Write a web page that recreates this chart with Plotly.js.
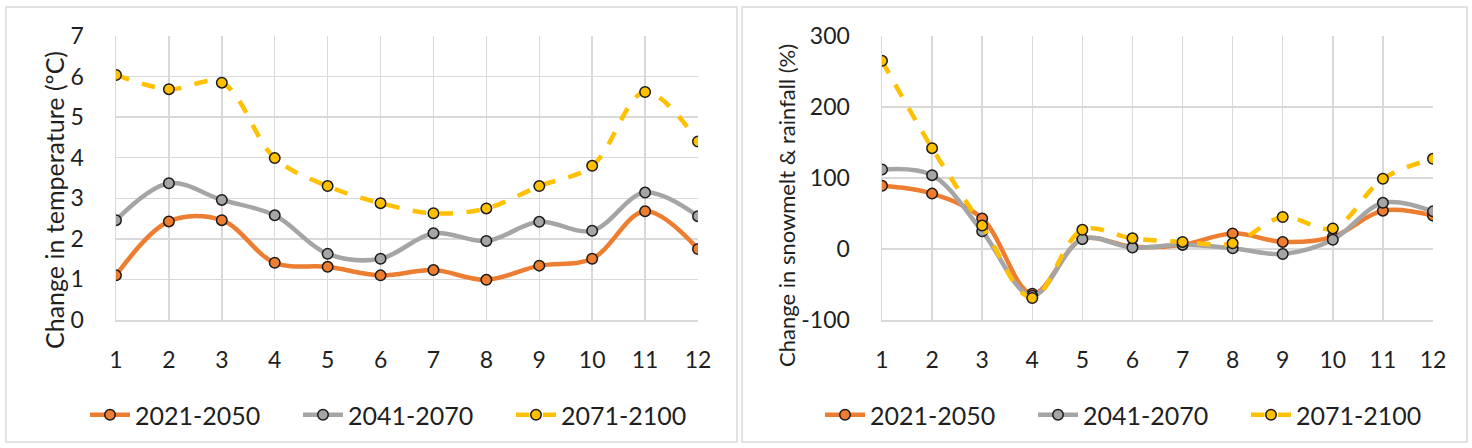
<!DOCTYPE html>
<html><head><meta charset="utf-8">
<script src="https://cdn.plot.ly/plotly-3.0.1.min.js"></script>
<style>body{margin:0;background:#fff}#c{width:1472px;height:448px}</style>
</head><body><div id="c"></div>
<script>
const months = [1,2,3,4,5,6,7,8,9,10,11,12];
const seriesNames = ['2021-2050','2041-2070','2071-2100'];
const temp2021 = [1.10,2.43,2.46,1.41,1.31,1.10,1.23,0.99,1.34,1.51,2.68,1.75];
const temp2041 = [2.46,3.37,2.96,2.58,1.63,1.51,2.14,1.95,2.42,2.20,3.14,2.56];
const temp2071 = [6.04,5.69,5.85,3.99,3.30,2.88,2.63,2.75,3.30,3.80,5.62,4.40];
const flow2021 = [89,78,43,-63,14,3,6,22,10,17,54,47];
const flow2041 = [112,104,25,-66,14,2,6,1,-7,13,65,53];
const flow2071 = [265,142,33,-69,27,15,10,8,45,29,99,127];
const xTickLabels = ['1','2','3','4','5','6','7','8','9','10','11','12'];
const tempTicks = [0,1,2,3,4,5,6,7];
const flowTicks = [-100,0,100,200,300];
const flowTickLabels = ['-100','0','100','200','300'];
const yTitles = ['Change in temperature (ºC)','Change in snowmelt & rainfall (%)'];

const colors = ['#ED7D31','#A5A5A5','#FFC000'];
const font = 'Lato, "Open Sans", sans-serif';
const txt = '#1f1f1f';

function tr(y, i, xa, ya, leg){
  return {x: months, y: y, name: seriesNames[i], type:'scatter', mode:'lines+markers',
    xaxis: xa, yaxis: ya, legend: leg,
    line:{color:colors[i], width:4.5, shape:'spline', smoothing:1, dash: i===2?'dash':'solid'},
    marker:{color:colors[i], size:10.5, line:{color:'#1a1a1a', width:1.5}}};
}
const data = [
  tr(temp2021,0,'x','y','legend'), tr(temp2041,1,'x','y','legend'), tr(temp2071,2,'x','y','legend'),
  tr(flow2021,0,'x2','y2','legend2'), tr(flow2041,1,'x2','y2','legend2'), tr(flow2071,2,'x2','y2','legend2')
];
const W=1472,H=448;
const yd=[(H-320)/H,(H-36)/H];
const gridc='#D9D9D9';
function xax(domain, anchor){
  return {domain:domain, anchor:anchor, range:[1,12], tickvals:months, ticktext:xTickLabels,
    showgrid:true, gridcolor:gridc, gridwidth:1.5, zeroline:false, showline:true, linecolor:gridc, linewidth:1.5,
    ticks:'', ticklabelstandoff:19, tickfont:{family:font,size:23,color:txt}, fixedrange:true};
}
function yax(domain, anchor, range, tv, tt){
  return {domain:domain, anchor:anchor, range:range, tickvals:tv, ticktext:tt,
    showgrid:true, gridcolor:gridc, gridwidth:1.5, zeroline:false, showline:true, linecolor:gridc, linewidth:1.5,
    ticks:'', ticklabelstandoff:26, tickfont:{family:font,size:23,color:txt}, fixedrange:true};
}
const legBase = {orientation:'h', y:(H-415)/H, xanchor:'left', yanchor:'middle',
    font:{family:font,size:25,color:txt}, entrywidth:158, itemwidth:40, bgcolor:'rgba(0,0,0,0)'};
const layout = {
  width:W, height:H, margin:{l:0,r:0,t:0,b:0}, paper_bgcolor:'#fff', plot_bgcolor:'#fff',
  showlegend:true,
  xaxis: xax([116/W,698/W],'y'),
  yaxis: yax(yd,'x',[0,7],tempTicks,tempTicks.map(String)),
  xaxis2: xax([882/W,1433/W],'y2'),
  yaxis2: yax(yd,'x2',[-100,300],flowTicks,flowTickLabels),
  legend: Object.assign({}, legBase, {x:85/W}),
  legend2: Object.assign({}, legBase, {x:820/W}),
  annotations:[
    {text:yTitles[0], xref:'paper', yref:'paper', x:54/W, y:(H-200)/H, textangle:-90, showarrow:false,
     xanchor:'center', yanchor:'middle', font:{family:font,size:25,color:txt}},
    {text:yTitles[1], xref:'paper', yref:'paper', x:786/W, y:(H-205)/H, textangle:-90, showarrow:false,
     xanchor:'center', yanchor:'middle', font:{family:font,size:22,color:txt}}
  ],
  shapes:[
    {type:'rect', xref:'paper', yref:'paper', x0:6/W, x1:737/W, y0:(H-442)/H, y1:(H-7)/H, line:{color:gridc,width:1.5}},
    {type:'rect', xref:'paper', yref:'paper', x0:742/W, x1:1467/W, y0:(H-442)/H, y1:(H-7)/H, line:{color:gridc,width:1.5}}
  ]
};
Plotly.newPlot('c', data, layout, {displayModeBar:false, staticPlot:true});
</script></body></html>
